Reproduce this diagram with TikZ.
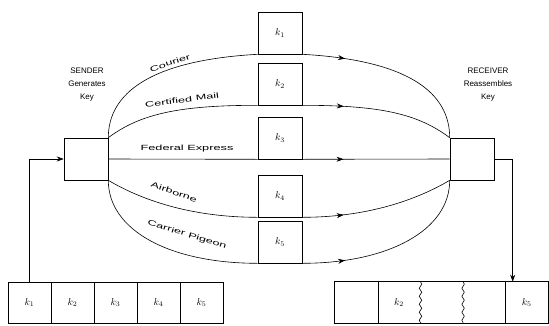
\documentclass[tikz,border=0pt]{standalone}
\usepackage{fontspec}
\setmainfont{Liberation Sans}
\newfontfamily\widefont[FakeStretch=1.7]{Liberation Sans}
\usetikzlibrary{arrows.meta,decorations.markings,decorations.pathmorphing}
\begin{document}
\begin{tikzpicture}[
    x=1pt, y=-1pt,
    line width=0.6pt,
    >={Stealth[length=7pt, width=5pt]},
    box/.style={rectangle, draw=black, minimum width=44pt, minimum height=42pt, inner sep=0pt},
    cell/.style={rectangle, draw=black, minimum width=43pt, minimum height=41pt, inner sep=0pt},
    slot/.style={rectangle, minimum width=42.6pt, minimum height=41pt, inner sep=0pt},
    route/.style={font=\widefont\fontsize{7.5}{9}\selectfont, inner sep=1pt},
    title/.style={align=center, font=\fontsize{8}{13}\selectfont},
    flow/.style={postaction={decorate},
      decoration={markings, mark=at position #1 with {\arrow{>}}}},
  ]
  \useasboundingbox (0,0) rectangle (549,325);

  % Sender and receiver
  \node[box] (sender) at (86,159) {};
  \node[title] (sendtext) at (87,85) {SENDER\\Generates\\Key};
  \node[box] (receiver) at (472,159) {};
  \node[title] (recvtext) at (488,85) {RECEIVER\\Reassembles\\Key};

  % Pieces on their way
  \foreach \i/\y in {1/33,2/84,3/138,4/196,5/242}
    \node[box] (m\i) at (280,\y) {$k_\i$};

  % Left half of each route
  \draw (sender.north east) .. controls +(0,-44) and +(-108,6) .. (m1.south west);
  \draw (sender.north east) .. controls +(32,-24) and +(-78,0) .. (m2.south west);
  \draw (sender.east) -- (m3.south west);
  \draw (sender.south east) .. controls +(32,19) and +(-68,0) .. (m4.south west);
  \draw (sender.south east) .. controls +(0,50) and +(-88,0) .. (m5.south west);

  % Route names
  \node[route, rotate=18] (courier) at (170,63) {Courier};
  \node[route, rotate=7] (certified) at (182,100) {Certified Mail};
  \node[route] (fedex) at (187,149) {Federal Express};
  \node[route, rotate=-19] (airborne) at (174,192) {Airborne};
  \node[route, rotate=-17] (pigeon) at (187,235) {Carrier Pigeon};

  % Right half of each route, arrow near the piece
  \draw[flow=0.23] (m1.south east) .. controls +(108,6) and +(0,-44) .. (receiver.north west);
  \draw[flow=0.27] (m2.south east) .. controls +(78,0) and +(-32,-24) .. (receiver.north west);
  \draw[flow=0.28] (m3.south east) -- (receiver.west);
  \draw[flow=0.27] (m4.south east) .. controls +(66,0) and +(-32,19) .. (receiver.south west);
  \draw[flow=0.23] (m5.south east) .. controls +(86,0) and +(0,50) .. (receiver.south west);

  % Key split into pieces
  \foreach \i in {1,...,5}
    \node[cell] (a\i) at ({8+43*(\i-0.5)},302.5) {$k_\i$};

  % Pieces that arrived
  \foreach \i/\t in {1/,2/$k_2$,3/,4/,5/$k_5$}
    \node[slot] (b\i) at ({335+42.6*(\i-0.5)},302.5) {\t};
  \draw (b1.north west) rectangle (b5.south east);
  \draw (b1.north east) -- (b1.south east);
  \draw[decorate, decoration={snake, amplitude=1.2pt, segment length=8pt}]
    (b2.north east) -- (b2.south east);
  \draw[decorate, decoration={snake, amplitude=1.2pt, segment length=8pt}]
    (b3.north east) -- (b3.south east);
  \draw (b4.north east) -- (b4.south east);

  % In and out
  \draw[->] (a1.north) |- (sender.west);
  \draw[->] (receiver.east) -| ([xshift=-14pt]b5.north);
\end{tikzpicture}
\end{document}
